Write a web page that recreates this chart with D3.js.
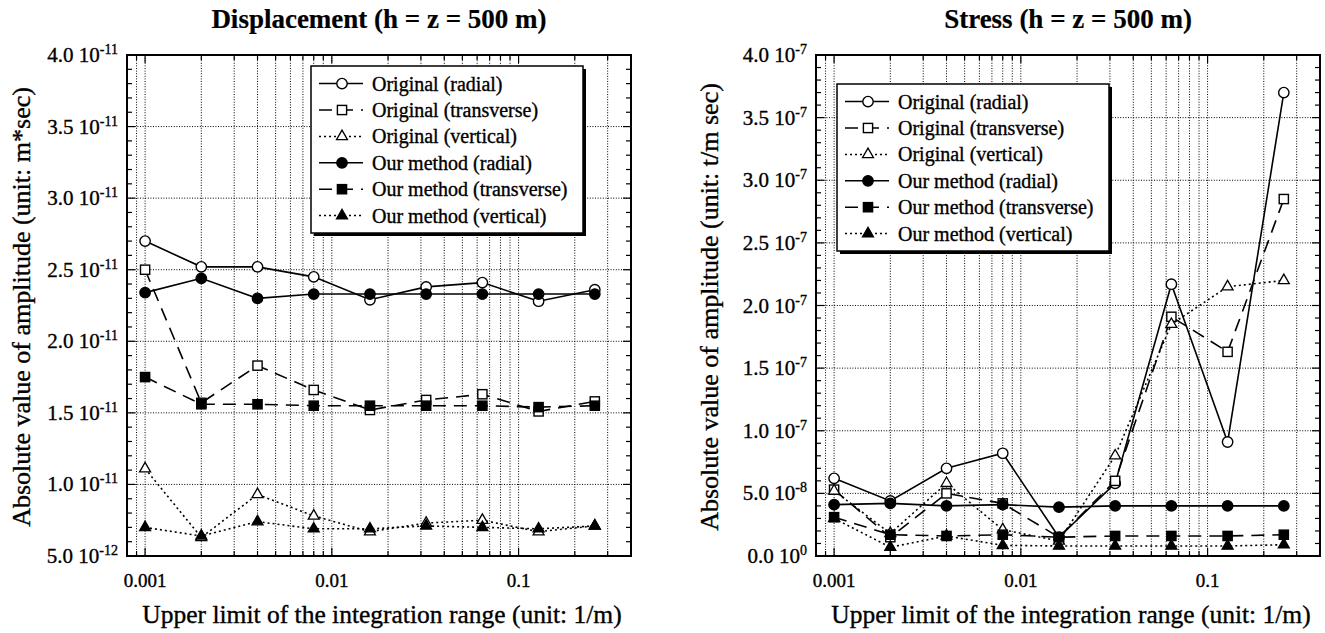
<!DOCTYPE html>
<html><head><meta charset="utf-8">
<script src="https://cdn.jsdelivr.net/npm/d3@7"></script>
<style>
body{margin:0;background:#fff;}
svg text{font-family:"Liberation Serif","Times New Roman",serif;fill:#000;stroke:#000;stroke-width:0.35px;}
svg text.title{stroke-width:0.2px;}
</style></head><body>
<svg id="fig" width="1325" height="633"></svg>
<script>
// Upper limit of the integration range (1/m), shared by both panels
const xValues = [0.001, 0.002, 0.004, 0.008, 0.016, 0.032, 0.064, 0.128, 0.256];
const xTickLabels = ["0.001", "0.01", "0.1"];

// Displacement amplitude (m*sec)
const dispOrigRadial = [2.70e-11, 2.52e-11, 2.52e-11, 2.45e-11, 2.29e-11, 2.38e-11, 2.41e-11, 2.28e-11, 2.36e-11];
const dispOrigTrans  = [2.50e-11, 1.57e-11, 1.83e-11, 1.66e-11, 1.52e-11, 1.59e-11, 1.63e-11, 1.51e-11, 1.58e-11];
const dispOrigVert   = [1.11e-11, 0.63e-11, 0.93e-11, 0.78e-11, 0.67e-11, 0.73e-11, 0.75e-11, 0.67e-11, 0.71e-11];
const dispOurRadial  = [2.34e-11, 2.44e-11, 2.30e-11, 2.33e-11, 2.33e-11, 2.33e-11, 2.33e-11, 2.33e-11, 2.33e-11];
const dispOurTrans   = [1.75e-11, 1.56e-11, 1.56e-11, 1.55e-11, 1.55e-11, 1.55e-11, 1.55e-11, 1.54e-11, 1.55e-11];
const dispOurVert    = [0.70e-11, 0.64e-11, 0.74e-11, 0.69e-11, 0.69e-11, 0.71e-11, 0.70e-11, 0.69e-11, 0.71e-11];

// Stress amplitude (t/m sec)
const stressOrigRadial = [0.62e-7, 0.44e-7, 0.70e-7, 0.82e-7, 0.15e-7, 0.58e-7, 2.17e-7, 0.91e-7, 3.70e-7];
const stressOrigTrans  = [0.53e-7, 0.15e-7, 0.50e-7, 0.42e-7, 0.15e-7, 0.60e-7, 1.91e-7, 1.63e-7, 2.85e-7];
const stressOrigVert   = [0.52e-7, 0.18e-7, 0.58e-7, 0.21e-7, 0.12e-7, 0.80e-7, 1.85e-7, 2.15e-7, 2.20e-7];
const stressOurRadial  = [0.41e-7, 0.42e-7, 0.40e-7, 0.41e-7, 0.39e-7, 0.40e-7, 0.40e-7, 0.40e-7, 0.40e-7];
const stressOurTrans   = [0.31e-7, 0.17e-7, 0.16e-7, 0.17e-7, 0.15e-7, 0.16e-7, 0.16e-7, 0.16e-7, 0.17e-7];
const stressOurVert    = [0.30e-7, 0.07e-7, 0.16e-7, 0.085e-7, 0.08e-7, 0.08e-7, 0.08e-7, 0.08e-7, 0.09e-7];

const seriesNames = ["Original (radial)", "Original (transverse)", "Original (vertical)",
                     "Our method (radial)", "Our method (transverse)", "Our method (vertical)"];

// Line/marker style for each series, in the order above
const seriesStyle = [
  {dash: null,   shape: "circle",   filled: false},
  {dash: "13,8", shape: "square",   filled: false},
  {dash: "2,3",  shape: "triangle", filled: false},
  {dash: null,   shape: "circle",   filled: true},
  {dash: "13,8", shape: "square",   filled: true},
  {dash: "2,3",  shape: "triangle", filled: true}
];

const svg = d3.select("#fig");

function sciParts(v) {
  if (Math.abs(v) < 1e-30) return ["0.0", "0"];
  const e = Math.floor(Math.log10(v) + 1e-9);
  return [(v / Math.pow(10, e)).toFixed(1), String(e)];
}

function drawMarker(g, shape, filled, x, y) {
  const fill = filled ? "#000" : "#fff";
  if (shape === "circle") {
    g.append("circle").attr("cx", x).attr("cy", y).attr("r", 5.2)
      .attr("fill", fill).attr("stroke", "#000").attr("stroke-width", 1.4);
  } else if (shape === "square") {
    g.append("rect").attr("x", x - 4.6).attr("y", y - 4.6).attr("width", 9.2).attr("height", 9.2)
      .attr("fill", fill).attr("stroke", "#000").attr("stroke-width", 1.4);
  } else {
    g.append("path").attr("transform", `translate(${x},${y})`)
      .attr("d", d3.symbol(d3.symbolTriangle, 52)())
      .attr("fill", fill).attr("stroke", "#000").attr("stroke-width", 1.3);
  }
}

function drawPanel(p) {
  const g = svg.append("g");
  const x = d3.scaleLog().domain([0.0008, 0.4]).range([p.left, p.right]);
  const y = d3.scaleLinear().domain([p.yMin, p.yMax]).range([p.bottom, p.top]);

  // grid: every log position, and each major y tick
  const xGrid = x.ticks().filter(t => x(t) > p.left + 1 && x(t) < p.right - 1);
  g.selectAll(".gx").data(xGrid).join("line")
    .attr("x1", d => x(d)).attr("x2", d => x(d)).attr("y1", p.top).attr("y2", p.bottom)
    .attr("stroke", "#000").attr("stroke-width", 1).attr("stroke-dasharray", "1,1.6");
  const yMajor = p.yMajor;
  g.selectAll(".gy").data(yMajor.filter(v => y(v) > p.top + 1 && y(v) < p.bottom - 1)).join("line")
    .attr("x1", p.left).attr("x2", p.right).attr("y1", d => y(d)).attr("y2", d => y(d))
    .attr("stroke", "#000").attr("stroke-width", 1).attr("stroke-dasharray", "1,1.6");

  // inward ticks on all four sides
  const tk = g.append("g").attr("stroke", "#000").attr("stroke-width", 1.2);
  p.yMinor.forEach(v => {
    const len = yMajor.some(m => Math.abs(m - v) < 1e-20) ? 8 : 5;
    tk.append("line").attr("x1", p.left).attr("x2", p.left + len).attr("y1", y(v)).attr("y2", y(v));
    tk.append("line").attr("x1", p.right).attr("x2", p.right - len).attr("y1", y(v)).attr("y2", y(v));
  });
  xGrid.forEach(t => {
    const major = Math.abs(Math.log10(t) - Math.round(Math.log10(t))) < 1e-6;
    const len = major ? 8 : 5;
    tk.append("line").attr("x1", x(t)).attr("x2", x(t)).attr("y1", p.bottom).attr("y2", p.bottom - len);
    tk.append("line").attr("x1", x(t)).attr("x2", x(t)).attr("y1", p.top).attr("y2", p.top + len);
  });

  // series lines, then markers on top
  const line = d3.line().x((d, i) => x(xValues[i])).y(d => y(d));
  p.series.forEach((vals, k) => {
    const st = seriesStyle[k];
    g.append("path").attr("d", line(vals)).attr("fill", "none")
      .attr("stroke", "#000").attr("stroke-width", 1.6)
      .attr("stroke-dasharray", st.dash);
  });
  p.series.forEach((vals, k) => {
    const st = seriesStyle[k];
    vals.forEach((v, i) => drawMarker(g, st.shape, st.filled, x(xValues[i]), y(v)));
  });

  // frame
  g.append("rect").attr("x", p.left).attr("y", p.top)
    .attr("width", p.right - p.left).attr("height", p.bottom - p.top)
    .attr("fill", "none").attr("stroke", "#000").attr("stroke-width", 2);

  // y tick labels: mantissa and power of ten
  yMajor.forEach(v => {
    const [m, e] = sciParts(v);
    const t = g.append("text").attr("x", p.left - 9).attr("y", y(v) + 7)
      .attr("text-anchor", "end").attr("font-size", 21);
    t.append("tspan").text(m + " 10");
    t.append("tspan").attr("dy", -8).attr("font-size", 14).text(e);
  });

  // x tick labels
  xTickLabels.forEach(s => {
    g.append("text").attr("x", x(+s)).attr("y", p.bottom + 31)
      .attr("text-anchor", "middle").attr("font-size", 19).text(s);
  });

  // titles
  const cx = (p.left + p.right) / 2;
  g.append("text").attr("class", "title").attr("x", cx).attr("y", 28).attr("text-anchor", "middle")
    .attr("font-size", 27).attr("font-weight", "bold").text(p.title);
  g.append("text").attr("x", cx + 3).attr("y", 623).attr("text-anchor", "middle")
    .attr("font-size", 25.5).text("Upper limit of the integration range (unit: 1/m)");
  g.append("text").attr("transform", `translate(${p.yTitleX},307) rotate(-90)`)
    .attr("text-anchor", "middle").attr("dy", "0.35em")
    .attr("font-size", 26).text(p.yTitle);

  // legend with drop shadow
  const lg = g.append("g").attr("transform", `translate(${p.legendX},${p.legendY})`);
  const lw = 272, lh = 167;
  lg.append("rect").attr("x", 3).attr("y", 3).attr("width", lw).attr("height", lh).attr("fill", "#000");
  lg.append("rect").attr("x", 0).attr("y", 0).attr("width", lw).attr("height", lh)
    .attr("fill", "#fff").attr("stroke", "#000").attr("stroke-width", 1.5);
  seriesNames.forEach((name, k) => {
    const st = seriesStyle[k];
    const ry = 17.6 + k * 26.4;
    lg.append("line").attr("x1", 8).attr("x2", 52).attr("y1", ry).attr("y2", ry)
      .attr("stroke", "#000").attr("stroke-width", 1.5).attr("stroke-dasharray", st.dash);
    drawMarker(lg, st.shape, st.filled, 31, ry);
    lg.append("text").attr("x", 61).attr("y", ry + 7).attr("font-size", 20).text(name);
  });
}

drawPanel({
  left: 127, right: 631, top: 55, bottom: 556,
  yMin: 0.5e-11, yMax: 4.0e-11,
  yMajor: d3.range(1, 9).map(i => i * 0.5e-11),
  yMinor: d3.range(5, 41).map(i => i * 1e-12),
  series: [dispOrigRadial, dispOrigTrans, dispOrigVert, dispOurRadial, dispOurTrans, dispOurVert],
  title: "Displacement (h = z = 500 m)",
  yTitle: "Absolute value of amplitude (unit: m*sec)",
  yTitleX: 21,
  legendX: 311, legendY: 66
});

drawPanel({
  left: 816, right: 1320, top: 55, bottom: 556,
  yMin: 0, yMax: 4.0e-7,
  yMajor: d3.range(0, 9).map(i => i * 0.5e-7),
  yMinor: d3.range(0, 41).map(i => i * 1e-8),
  series: [stressOrigRadial, stressOrigTrans, stressOrigVert, stressOurRadial, stressOurTrans, stressOurVert],
  title: "Stress (h = z = 500 m)",
  yTitle: "Absolute value of amplitude (unit: t/m sec)",
  yTitleX: 709,
  legendX: 837, legendY: 84
});
</script>
</body></html>
